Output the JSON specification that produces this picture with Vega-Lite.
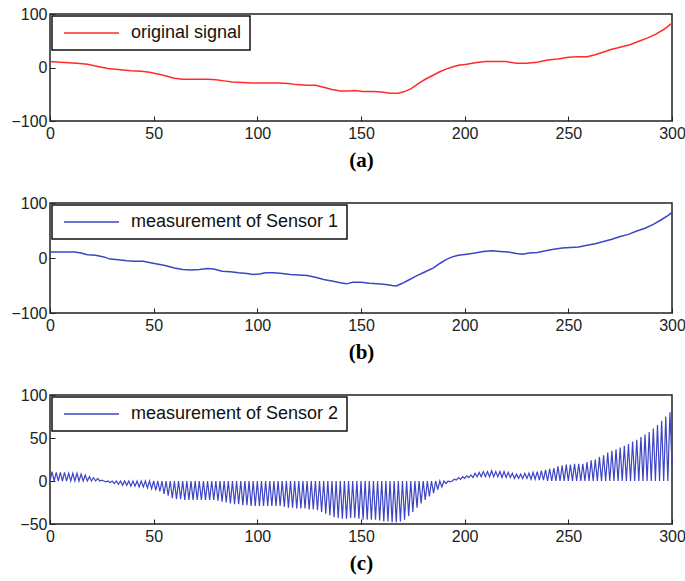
{
  "$schema": "https://vega.github.io/schema/vega-lite/v6.json",
  "padding": {"left": 10, "top": 5, "right": 10, "bottom": 5},
  "background": "white",
  "spacing": 82,
  "bounds": "flush",
  "datasets": {
    "a": [
      {"x":0,"y":11},{"x":5,"y":10},{"x":9,"y":9},{"x":13,"y":8},{"x":18,"y":6},{"x":23,"y":2},{"x":28,"y":-2},{"x":34,"y":-4},{"x":39,"y":-6},{"x":44,"y":-7},{"x":48,"y":-9},{"x":52,"y":-12},{"x":56,"y":-16},{"x":60,"y":-20},{"x":64,"y":-22},{"x":70,"y":-22},{"x":76,"y":-22},{"x":80,"y":-23},{"x":84,"y":-25},{"x":88,"y":-27},{"x":93,"y":-28},{"x":98,"y":-29},{"x":104,"y":-29},{"x":110,"y":-29},{"x":115,"y":-30},{"x":119,"y":-32},{"x":124,"y":-33},{"x":128,"y":-33},{"x":132,"y":-37},{"x":136,"y":-41},{"x":140,"y":-44},{"x":144,"y":-44},{"x":147,"y":-43},{"x":151,"y":-45},{"x":156,"y":-45},{"x":160,"y":-46},{"x":164,"y":-48},{"x":168,"y":-48},{"x":171,"y":-45},{"x":174,"y":-40},{"x":178,"y":-29},{"x":181,"y":-22},{"x":185,"y":-14},{"x":188,"y":-8},{"x":191,"y":-3},{"x":194,"y":1},{"x":197,"y":4},{"x":201,"y":6},{"x":205,"y":9},{"x":210,"y":11},{"x":215,"y":11},{"x":220,"y":11},{"x":225,"y":8},{"x":230,"y":8},{"x":235,"y":10},{"x":240,"y":14},{"x":245,"y":16},{"x":250,"y":19},{"x":255,"y":20},{"x":259,"y":20},{"x":263,"y":24},{"x":267,"y":29},{"x":271,"y":34},{"x":275,"y":38},{"x":280,"y":43},{"x":284,"y":49},{"x":288,"y":55},{"x":292,"y":62},{"x":296,"y":71},{"x":300,"y":83}
    ],
    "b": [
      {"x":0,"y":11},{"x":4,"y":11},{"x":8,"y":11},{"x":12,"y":11},{"x":15,"y":9},{"x":18,"y":6},{"x":22,"y":5},{"x":26,"y":2},{"x":29,"y":-2},{"x":33,"y":-3},{"x":37,"y":-5},{"x":41,"y":-6},{"x":45,"y":-6},{"x":49,"y":-9},{"x":53,"y":-12},{"x":56,"y":-14},{"x":60,"y":-18},{"x":64,"y":-21},{"x":68,"y":-22},{"x":72,"y":-21},{"x":76,"y":-19},{"x":79,"y":-20},{"x":83,"y":-24},{"x":87,"y":-25},{"x":91,"y":-27},{"x":95,"y":-28},{"x":98,"y":-30},{"x":101,"y":-29},{"x":104,"y":-27},{"x":108,"y":-27},{"x":112,"y":-28},{"x":116,"y":-30},{"x":120,"y":-31},{"x":124,"y":-32},{"x":128,"y":-35},{"x":132,"y":-39},{"x":136,"y":-42},{"x":140,"y":-45},{"x":143,"y":-47},{"x":146,"y":-44},{"x":150,"y":-44},{"x":154,"y":-46},{"x":158,"y":-47},{"x":162,"y":-48},{"x":165,"y":-50},{"x":167,"y":-51},{"x":170,"y":-46},{"x":173,"y":-40},{"x":177,"y":-32},{"x":181,"y":-25},{"x":185,"y":-18},{"x":188,"y":-10},{"x":191,"y":-3},{"x":194,"y":2},{"x":197,"y":5},{"x":201,"y":7},{"x":205,"y":9},{"x":209,"y":12},{"x":213,"y":13},{"x":217,"y":12},{"x":221,"y":11},{"x":225,"y":8},{"x":228,"y":7},{"x":231,"y":9},{"x":235,"y":10},{"x":239,"y":13},{"x":243,"y":16},{"x":247,"y":18},{"x":251,"y":19},{"x":255,"y":20},{"x":259,"y":23},{"x":263,"y":26},{"x":267,"y":30},{"x":271,"y":34},{"x":275,"y":39},{"x":279,"y":43},{"x":283,"y":49},{"x":287,"y":54},{"x":291,"y":61},{"x":295,"y":70},{"x":298,"y":77},{"x":300,"y":83}
    ],
    "c": [
      {"x":0,"y":0},{"x":1,"y":11},{"x":2,"y":0},{"x":3,"y":10},{"x":4,"y":0},{"x":5,"y":10},{"x":6,"y":0},{"x":7,"y":10},{"x":8,"y":0},{"x":9,"y":9},
      {"x":10,"y":0},{"x":11,"y":9},{"x":12,"y":0},{"x":13,"y":9},{"x":14,"y":0},{"x":15,"y":8},{"x":16,"y":0},{"x":17,"y":7},{"x":18,"y":0},{"x":19,"y":5},
      {"x":20,"y":0},{"x":21,"y":4},{"x":22,"y":0},{"x":23,"y":3},{"x":24,"y":0},{"x":25,"y":1},{"x":26,"y":0},{"x":27,"y":-1},{"x":28,"y":0},{"x":29,"y":-2},
      {"x":30,"y":0},{"x":31,"y":-3},{"x":32,"y":0},{"x":33,"y":-4},{"x":34,"y":0},{"x":35,"y":-5},{"x":36,"y":0},{"x":37,"y":-5},{"x":38,"y":0},{"x":39,"y":-6},
      {"x":40,"y":0},{"x":41,"y":-6},{"x":42,"y":0},{"x":43,"y":-7},{"x":44,"y":0},{"x":45,"y":-7},{"x":46,"y":0},{"x":47,"y":-8},{"x":48,"y":0},{"x":49,"y":-9},
      {"x":50,"y":0},{"x":51,"y":-11},{"x":52,"y":0},{"x":53,"y":-12},{"x":54,"y":0},{"x":55,"y":-15},{"x":56,"y":0},{"x":57,"y":-17},{"x":58,"y":0},{"x":59,"y":-20},
      {"x":60,"y":0},{"x":61,"y":-21},{"x":62,"y":0},{"x":63,"y":-21},{"x":64,"y":0},{"x":65,"y":-22},{"x":66,"y":0},{"x":67,"y":-22},{"x":68,"y":0},{"x":69,"y":-22},
      {"x":70,"y":0},{"x":71,"y":-22},{"x":72,"y":0},{"x":73,"y":-22},{"x":74,"y":0},{"x":75,"y":-22},{"x":76,"y":0},{"x":77,"y":-22},{"x":78,"y":0},{"x":79,"y":-22},
      {"x":80,"y":0},{"x":81,"y":-23},{"x":82,"y":0},{"x":83,"y":-24},{"x":84,"y":0},{"x":85,"y":-25},{"x":86,"y":0},{"x":87,"y":-26},{"x":88,"y":0},{"x":89,"y":-27},
      {"x":90,"y":0},{"x":91,"y":-27},{"x":92,"y":0},{"x":93,"y":-28},{"x":94,"y":0},{"x":95,"y":-28},{"x":96,"y":0},{"x":97,"y":-29},{"x":98,"y":0},{"x":99,"y":-29},
      {"x":100,"y":0},{"x":101,"y":-29},{"x":102,"y":0},{"x":103,"y":-29},{"x":104,"y":0},{"x":105,"y":-29},{"x":106,"y":0},{"x":107,"y":-29},{"x":108,"y":0},{"x":109,"y":-29},
      {"x":110,"y":0},{"x":111,"y":-29},{"x":112,"y":0},{"x":113,"y":-30},{"x":114,"y":0},{"x":115,"y":-31},{"x":116,"y":0},{"x":117,"y":-31},{"x":118,"y":0},{"x":119,"y":-32},
      {"x":120,"y":0},{"x":121,"y":-32},{"x":122,"y":0},{"x":123,"y":-32},{"x":124,"y":0},{"x":125,"y":-33},{"x":126,"y":0},{"x":127,"y":-33},{"x":128,"y":0},{"x":129,"y":-34},
      {"x":130,"y":0},{"x":131,"y":-36},{"x":132,"y":0},{"x":133,"y":-38},{"x":134,"y":0},{"x":135,"y":-40},{"x":136,"y":0},{"x":137,"y":-42},{"x":138,"y":0},{"x":139,"y":-43},
      {"x":140,"y":0},{"x":141,"y":-44},{"x":142,"y":0},{"x":143,"y":-44},{"x":144,"y":0},{"x":145,"y":-43},{"x":146,"y":0},{"x":147,"y":-43},{"x":148,"y":0},{"x":149,"y":-44},
      {"x":150,"y":0},{"x":151,"y":-45},{"x":152,"y":0},{"x":153,"y":-45},{"x":154,"y":0},{"x":155,"y":-45},{"x":156,"y":0},{"x":157,"y":-45},{"x":158,"y":0},{"x":159,"y":-46},
      {"x":160,"y":0},{"x":161,"y":-47},{"x":162,"y":0},{"x":163,"y":-47},{"x":164,"y":0},{"x":165,"y":-48},{"x":166,"y":0},{"x":167,"y":-48},{"x":168,"y":0},{"x":169,"y":-47},
      {"x":170,"y":0},{"x":171,"y":-45},{"x":172,"y":0},{"x":173,"y":-41},{"x":174,"y":0},{"x":175,"y":-36},{"x":176,"y":0},{"x":177,"y":-31},{"x":178,"y":0},{"x":179,"y":-26},
      {"x":180,"y":0},{"x":181,"y":-22},{"x":182,"y":0},{"x":183,"y":-18},{"x":184,"y":0},{"x":185,"y":-14},{"x":186,"y":0},{"x":187,"y":-10},{"x":188,"y":0},{"x":189,"y":-7},
      {"x":190,"y":0},{"x":191,"y":-3},{"x":192,"y":0},{"x":193,"y":-1},{"x":194,"y":0},{"x":195,"y":2},{"x":196,"y":1},{"x":197,"y":4},{"x":198,"y":2},{"x":199,"y":5},
      {"x":200,"y":3},{"x":201,"y":6},{"x":202,"y":4},{"x":203,"y":7},{"x":204,"y":4},{"x":205,"y":9},{"x":206,"y":5},{"x":207,"y":10},{"x":208,"y":5},{"x":209,"y":11},
      {"x":210,"y":5},{"x":211,"y":11},{"x":212,"y":5},{"x":213,"y":12},{"x":214,"y":5},{"x":215,"y":11},{"x":216,"y":5},{"x":217,"y":11},{"x":218,"y":4},{"x":219,"y":11},
      {"x":220,"y":4},{"x":221,"y":10},{"x":222,"y":4},{"x":223,"y":9},{"x":224,"y":3},{"x":225,"y":8},{"x":226,"y":3},{"x":227,"y":8},{"x":228,"y":3},{"x":229,"y":9},
      {"x":230,"y":3},{"x":231,"y":9},{"x":232,"y":2},{"x":233,"y":10},{"x":234,"y":2},{"x":235,"y":11},{"x":236,"y":1},{"x":237,"y":12},{"x":238,"y":1},{"x":239,"y":13},
      {"x":240,"y":0},{"x":241,"y":14},{"x":242,"y":0},{"x":243,"y":15},{"x":244,"y":0},{"x":245,"y":17},{"x":246,"y":0},{"x":247,"y":18},{"x":248,"y":0},{"x":249,"y":19},
      {"x":250,"y":0},{"x":251,"y":19},{"x":252,"y":0},{"x":253,"y":20},{"x":254,"y":0},{"x":255,"y":20},{"x":256,"y":0},{"x":257,"y":20},{"x":258,"y":0},{"x":259,"y":22},
      {"x":260,"y":0},{"x":261,"y":24},{"x":262,"y":0},{"x":263,"y":25},{"x":264,"y":0},{"x":265,"y":28},{"x":266,"y":0},{"x":267,"y":30},{"x":268,"y":0},{"x":269,"y":33},
      {"x":270,"y":0},{"x":271,"y":35},{"x":272,"y":0},{"x":273,"y":37},{"x":274,"y":0},{"x":275,"y":39},{"x":276,"y":0},{"x":277,"y":41},{"x":278,"y":0},{"x":279,"y":43},
      {"x":280,"y":0},{"x":281,"y":46},{"x":282,"y":0},{"x":283,"y":48},{"x":284,"y":0},{"x":285,"y":51},{"x":286,"y":0},{"x":287,"y":54},{"x":288,"y":0},{"x":289,"y":57},
      {"x":290,"y":0},{"x":291,"y":61},{"x":292,"y":0},{"x":293,"y":65},{"x":294,"y":0},{"x":295,"y":70},{"x":296,"y":0},{"x":297,"y":75},{"x":298,"y":0},{"x":299,"y":80},
      {"x":300,"y":20}
    ]
  },
  "vconcat": [
    {
      "width": 622, "height": 107,
      "data": {"name": "a"},
      "mark": {"type": "line", "strokeWidth": 1.5},
      "encoding": {
        "x": {"field": "x", "type": "quantitative", "scale": {"domain": [0, 300], "nice": false}, "axis": {"values": [0,50,100,150,200,250,300], "title": "(a)"}},
        "y": {"field": "y", "type": "quantitative", "scale": {"domain": [-100, 100], "nice": false}, "axis": {"values": [-100,0,100], "title": null}},
        "color": {"datum": "original signal", "scale": {"range": ["#ff2b2b"]}, "legend": {"title": null}}
      }
    },
    {
      "width": 622, "height": 110,
      "data": {"name": "b"},
      "mark": {"type": "line", "strokeWidth": 1.5},
      "encoding": {
        "x": {"field": "x", "type": "quantitative", "scale": {"domain": [0, 300], "nice": false}, "axis": {"values": [0,50,100,150,200,250,300], "title": "(b)"}},
        "y": {"field": "y", "type": "quantitative", "scale": {"domain": [-100, 100], "nice": false}, "axis": {"values": [-100,0,100], "title": null}},
        "color": {"datum": "measurement of Sensor 1", "scale": {"range": ["#3d45c4"]}, "legend": {"title": null}}
      }
    },
    {
      "width": 622, "height": 129,
      "data": {"name": "c"},
      "mark": {"type": "line", "strokeWidth": 1.2},
      "encoding": {
        "x": {"field": "x", "type": "quantitative", "scale": {"domain": [0, 300], "nice": false}, "axis": {"values": [0,50,100,150,200,250,300], "title": "(c)"}},
        "y": {"field": "y", "type": "quantitative", "scale": {"domain": [-50, 100], "nice": false}, "axis": {"values": [-50,0,50,100], "title": null}},
        "color": {"datum": "measurement of Sensor 2", "scale": {"range": ["#3d45c4"]}, "legend": {"title": null}}
      }
    }
  ],
  "resolve": {"scale": {"color": "independent"}, "legend": {"color": "independent"}},
  "config": {
    "view": {"stroke": "#222", "strokeWidth": 1.5},
    "axis": {
      "grid": false,
      "domain": false,
      "ticks": true,
      "tickSize": -5,
      "tickColor": "#222",
      "labelFont": "Liberation Sans",
      "labelFontSize": 16,
      "labelColor": "#222",
      "labelFlush": false,
      "labelOverlap": false,
      "titleFont": "Liberation Serif",
      "titleFontWeight": "bold",
      "titleFontSize": 21,
      "titleColor": "#000"
    },
    "axisX": {"labelPadding": 9, "titlePadding": 8},
    "axisY": {"labelPadding": 8},
    "legend": {
      "orient": "top-left",
      "offset": 2,
      "padding": 8,
      "strokeColor": "#111",
      "strokeWidth": 1.5,
      "fillColor": "white",
      "labelFont": "Liberation Sans",
      "labelFontSize": 18,
      "labelColor": "#111",
      "labelLimit": 0,
      "symbolType": "M-1,0H10",
      "symbolSize": 100,
      "symbolStrokeWidth": 1.5,
      "labelOffset": 53,
      "cornerRadius": 0
    }
  }
}
